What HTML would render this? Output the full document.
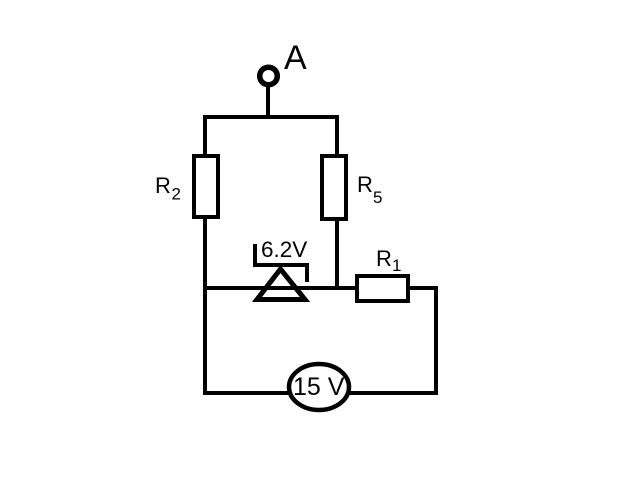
<!DOCTYPE html>
<html><head><meta charset="utf-8"><style>
html,body{margin:0;padding:0;background:#fff;width:640px;height:480px;overflow:hidden}
svg{display:block}
text{font-family:"Liberation Sans",sans-serif;fill:#000}
</style></head><body>
<svg width="640" height="480" viewBox="0 0 640 480" xmlns="http://www.w3.org/2000/svg">
<g fill="none" stroke="#000" stroke-width="4">
<circle cx="268.500" cy="76" r="8.800" stroke-width="5.500"/>
<path d="M268 87V117"/>
<path d="M205 156V117H337V156"/>
<path d="M205 217V393H289"/>
<path d="M337 219V288"/>
<path d="M205 288H357"/>
<path d="M408 288H436V393H349"/>
<rect x="194" y="156" width="24" height="61"/>
<rect x="322" y="156" width="24" height="63"/>
<rect x="357" y="276" width="51" height="25"/>
<path d="M255 244V265H307V282"/>
<path d="M280.500 269L257 299.500H305Z" stroke-width="5"/>
<ellipse cx="319" cy="387" rx="30" ry="23" fill="#fff" stroke-width="4.500"/>
</g>
<text x="284" y="69" font-size="34">A</text>
<text x="155" y="193" font-size="22">R</text><text x="171.500" y="199.500" font-size="17">2</text>
<text x="357" y="192" font-size="22">R</text><text x="373" y="203" font-size="17">5</text>
<text x="261" y="257" font-size="22.500">6.2V</text>
<text x="376" y="266" font-size="22">R</text><text x="392" y="271" font-size="17">1</text>
<text x="293" y="395" font-size="25">15 V</text>
</svg>
</body></html>
